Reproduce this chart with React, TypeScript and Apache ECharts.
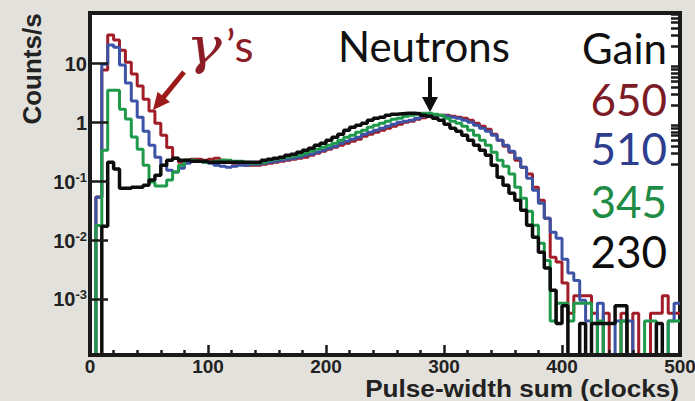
import React, { useEffect, useRef } from "react";
import * as echarts from "echarts";

// ---- data -------------------------------------------------------------
const BIN_WIDTH = 5; // clocks per histogram bin
const X_MIN = 0;
const X_MAX = 500;
const X_INTERVAL = 100;
const Y_MIN = 1.14e-4;
const Y_MAX = 72.6;
const EMPTY_BIN = 1e-7; // zero-count bins drawn below the axis floor

const gainLabels = ["650", "510", "345", "230"];
const lineColors = ["#a11d27", "#3c53a6", "#1f9a4b", "#0d0d0d"];
const textColors = ["#7d1b27", "#2e3e8e", "#1f8c46", "#0d0d0d"];

const xTickLabels = [0, 100, 200, 300, 400, 500];
const yMajorTicks = [0.001, 0.01, 0.1, 1, 10];
const yMinorTicks = [0.2, 0.3, 0.4, 0.5, 0.6, 0.7, 0.8, 0.9, 2, 3, 4, 5, 6, 7, 8, 9, 20, 30, 40, 50, 60, 70];

// counts/s per 5-clock bin, bins starting at 0, 5, 10, ... 495
const gain650 = [
  0, 0.055, 7.8, 30.6, 25.2, 17.0, 10.6, 6.7, 4.2, 2.5,
  1.57, 0.98, 0.61, 0.38, 0.25, 0.213, 0.231, 0.24, 0.24, 0.231,
  0.24, 0.249, 0.231, 0.213, 0.205, 0.197, 0.19, 0.19, 0.19, 0.197,
  0.205, 0.213, 0.222, 0.231, 0.24, 0.249, 0.259, 0.281, 0.303, 0.328,
  0.355, 0.384, 0.415, 0.449, 0.485, 0.525, 0.59, 0.638, 0.69, 0.746,
  0.807, 0.872, 0.943, 1.019, 1.06, 1.146, 1.216, 1.289, 1.341, 1.341,
  1.341, 1.289, 1.24, 1.192, 1.102, 0.981, 0.872, 0.776, 0.638, 0.505,
  0.399, 0.316, 0.231, 0.175, 0.134, 0.08, 0.048, 0.0239, 0.0052, 0.0043,
  0.0019, 0.00058, 0.00116, 0.00116, 0.00116, 0.00058, 0, 0.00058, 0, 0,
  0.00058, 0, 0.00058, 0, 0, 0.00058, 0.00058, 0.00116, 0.00058, 0.00058,
];
const gain510 = [
  0, 0.054, 9.8, 20.7, 19.1, 9.5, 4.7, 2.32, 1.24, 0.718,
  0.415, 0.259, 0.19, 0.156, 0.145, 0.169, 0.205, 0.222, 0.222, 0.213,
  0.205, 0.19, 0.182, 0.175, 0.182, 0.19, 0.19, 0.197, 0.197, 0.205,
  0.213, 0.222, 0.231, 0.24, 0.249, 0.259, 0.281, 0.292, 0.316, 0.341,
  0.369, 0.399, 0.449, 0.485, 0.525, 0.568, 0.638, 0.69, 0.746, 0.807,
  0.872, 0.943, 1.019, 1.06, 1.102, 1.192, 1.289, 1.341, 1.341, 1.315,
  1.289, 1.24, 1.192, 1.102, 1.019, 0.907, 0.807, 0.718, 0.614, 0.505,
  0.415, 0.328, 0.249, 0.175, 0.114, 0.0715, 0.043, 0.0239, 0.0138, 0.0109,
  0.0048, 0.0028, 0.0021, 0.00097, 0.00043, 0, 0.00086, 0, 0, 0.00043,
  0.00043, 0.00043, 0, 0, 0, 0, 0, 0, 0.00043, 0.00086,
];
const gain345 = [
  0, 0.018, 0.34, 3.56, 3.56, 1.69, 1.15, 0.57, 0.355, 0.19,
  0.098, 0.084, 0.084, 0.106, 0.145, 0.19, 0.231, 0.231, 0.222, 0.213,
  0.213, 0.222, 0.231, 0.231, 0.222, 0.222, 0.213, 0.205, 0.205, 0.213,
  0.231, 0.24, 0.249, 0.259, 0.27, 0.281, 0.303, 0.328, 0.355, 0.384,
  0.415, 0.449, 0.505, 0.568, 0.614, 0.69, 0.746, 0.839, 0.907, 0.981,
  1.06, 1.146, 1.192, 1.289, 1.341, 1.394, 1.449, 1.449, 1.394, 1.341,
  1.192, 1.06, 0.981, 0.872, 0.746, 0.614, 0.505, 0.415, 0.316, 0.231,
  0.182, 0.134, 0.08, 0.0523, 0.0314, 0.0182, 0.009, 0.0046, 0.00043, 0.00086,
  0.00086, 0.00043, 0.00086, 0.00086, 0.00086, 0, 0.00043, 0, 0, 0,
  0.00043, 0, 0, 0, 0.00043, 0.00043, 0, 0, 0.00043, 0.00043,
];
const gain230 = [
  0, 0, 0.0175, 0.213, 0.164, 0.077, 0.077, 0.08, 0.08, 0.087,
  0.106, 0.128, 0.19, 0.231, 0.249, 0.231, 0.231, 0.222, 0.222, 0.222,
  0.213, 0.213, 0.213, 0.213, 0.213, 0.213, 0.213, 0.213, 0.213, 0.231,
  0.24, 0.249, 0.259, 0.281, 0.292, 0.316, 0.341, 0.369, 0.415, 0.449,
  0.505, 0.568, 0.638, 0.746, 0.839, 0.907, 0.981, 1.102, 1.192, 1.24,
  1.341, 1.394, 1.422, 1.449, 1.449, 1.422, 1.341, 1.289, 1.192, 1.102,
  0.943, 0.807, 0.718, 0.614, 0.505, 0.415, 0.341, 0.281, 0.19, 0.119,
  0.087, 0.0635, 0.0483, 0.0327, 0.0182, 0.0114, 0.0063, 0.0034, 0.00143, 0.00039,
  0.00078, 0, 0, 0.00039, 0, 0.00039, 0.00039, 0.00039, 0.00039, 0.00078,
  0.00078, 0, 0, 0, 0, 0, 0.00039, 0, 0, 0,
];
const seriesValues = [gain650, gain510, gain345, gain230];

// ---- helpers ----------------------------------------------------------
function stepData(values: number[]): [number, number][] {
  const pts: [number, number][] = values.map((v, i) => [i * BIN_WIDTH, v > 0 ? v : EMPTY_BIN]);
  pts.push([values.length * BIN_WIDTH, pts[pts.length - 1][1]]);
  return pts;
}

const FRAME = "#1b1a1a";
const LABEL = "#222222";
const AXIS_FONT = '"Liberation Sans", Arial, Helvetica, sans-serif';
const ANNO_FONT = 'Lato, "Open Sans", "Noto Sans", sans-serif';

function yLabel(v: number): string {
  const e = Math.round(Math.log10(v));
  if (e >= 0) return `{b|${Math.round(Math.pow(10, e))}}`;
  return `{b|10}{s|${e}}`;
}

function textEl(text: string, x: number, y: number, font: string, fill: string, align: string, extra: any = {}) {
  return {
    type: "text",
    x,
    y,
    z: 20,
    silent: true,
    ...extra,
    style: { text, font, fill, align, verticalAlign: "middle", textAlign: align, textVerticalAlign: "middle" },
  };
}

// arrow geometry (annotation only)
function arrow(x1: number, y1: number, tipX: number, tipY: number, color: string, w: number, headLen: number, headHalf: number) {
  const dx = tipX - x1;
  const dy = tipY - y1;
  const len = Math.sqrt(dx * dx + dy * dy);
  const ux = dx / len;
  const uy = dy / len;
  const bx = tipX - ux * headLen;
  const by = tipY - uy * headLen;
  const px = -uy;
  const py = ux;
  return [
    {
      type: "line",
      z: 20,
      silent: true,
      shape: { x1, y1, x2: bx + ux * 2, y2: by + uy * 2 },
      style: { stroke: color, lineWidth: w },
    },
    {
      type: "polygon",
      z: 20,
      silent: true,
      shape: {
        points: [
          [tipX, tipY],
          [bx + px * headHalf, by + py * headHalf],
          [bx - px * headHalf, by - py * headHalf],
        ],
      },
      style: { fill: color },
    },
  ];
}

export default function App() {
  const ref = useRef<HTMLDivElement>(null);

  useEffect(() => {
    if (!ref.current) return;
    const chart = echarts.init(ref.current, null, { renderer: "svg", width: 695, height: 401 });

    const series = seriesValues.map((vals, i) => ({
      type: "line",
      name: gainLabels[i],
      data: stepData(vals),
      step: "end",
      symbol: "none",
      showSymbol: false,
      clip: true,
      silent: true,
      lineStyle: { color: lineColors[i], width: i === 3 ? 3.5 : 3 },
      itemStyle: { color: lineColors[i] },
      emphasis: { disabled: true },
    }));

    const graphic: any[] = [
      {
        type: "text",
        x: 32,
        y: 69,
        rotation: Math.PI / 2,
        z: 20,
        silent: true,
        style: {
          text: "Counts/s",
          font: `bold 26px ${AXIS_FONT}`,
          fill: LABEL,
          align: "center",
          verticalAlign: "middle",
          textAlign: "center",
          textVerticalAlign: "middle",
        },
      },
      textEl("Pulse-width sum (clocks)", 679, 388, `bold 24px ${AXIS_FONT}`, LABEL, "right", { scaleX: 1.09 }),
      textEl("Neutrons", 338, 46, `42px ${ANNO_FONT}`, "#111", "left"),
      textEl("Gain", 667, 48, `42px ${ANNO_FONT}`, "#111", "right"),
      textEl(gainLabels[0], 667, 99, `44px ${ANNO_FONT}`, textColors[0], "right"),
      textEl(gainLabels[1], 667, 148, `44px ${ANNO_FONT}`, textColors[1], "right"),
      textEl(gainLabels[2], 667, 201, `44px ${ANNO_FONT}`, textColors[2], "right"),
      textEl(gainLabels[3], 667, 251, `44px ${ANNO_FONT}`, textColors[3], "right"),
      textEl("\u03b3", 186, 46, `italic 50px "DejaVu Serif", "Liberation Serif", serif`, "#8c1c25", "left", { scaleX: 1.2 }),
      textEl("\u2019s", 226, 45, `44px ${ANNO_FONT}`, "#8c1c25", "left"),
      ...arrow(184, 72, 153, 110, "#9c1a1a", 5, 17, 8),
      ...arrow(430, 77, 430, 112, "#0d0d0d", 4, 15, 8),
    ];

    chart.setOption({
      animation: false,
      backgroundColor: "transparent",
      grid: {
        left: 90,
        right: 15,
        top: 13,
        bottom: 46,
        show: true,
        backgroundColor: "#ffffff",
        borderColor: FRAME,
        borderWidth: 4,
        containLabel: false,
        outerBoundsMode: "none",
      },
      xAxis: {
        type: "value",
        min: X_MIN,
        max: X_MAX,
        interval: X_INTERVAL,
        z: 5,
        axisLine: { show: true, onZero: false, lineStyle: { color: FRAME, width: 4 } },
        axisTick: { show: true, inside: true, length: 10, lineStyle: { color: FRAME, width: 2.5 } },
        minorTick: { show: true, splitNumber: 5, length: 5, lineStyle: { color: FRAME, width: 2.5 } },
        axisLabel: {
          margin: 2,
          fontFamily: AXIS_FONT,
          fontWeight: "bold",
          fontSize: 19,
          lineHeight: 18,
          color: LABEL,
          formatter: (v: number) => (xTickLabels.includes(v) ? String(v) : ""),
        },
        splitLine: { show: false },
        minorSplitLine: { show: false },
      },
      yAxis: [
        {
          type: "log",
          logBase: 10,
          min: Y_MIN,
          max: Y_MAX,
          z: 5,
          axisLine: { show: true, lineStyle: { color: FRAME, width: 4 } },
          axisTick: { show: true, inside: true, length: 18, customValues: yMajorTicks, lineStyle: { color: FRAME, width: 2.5 } },
          axisLabel: {
            customValues: yMajorTicks,
            margin: 3,
            formatter: yLabel,
            rich: {
              b: { fontFamily: AXIS_FONT, fontWeight: "bold", fontSize: 20, color: LABEL, lineHeight: 22 },
              s: { fontFamily: AXIS_FONT, fontWeight: "bold", fontSize: 13, color: LABEL, lineHeight: 14, verticalAlign: "top" },
            },
          },
          splitLine: { show: false },
        },
        {
          type: "log",
          logBase: 10,
          min: Y_MIN,
          max: Y_MAX,
          z: 5,
          axisLine: { show: false },
          axisTick: { show: true, inside: true, length: 9, customValues: yMinorTicks, lineStyle: { color: FRAME, width: 2.5 } },
          axisLabel: { show: false },
          splitLine: { show: false },
        },
      ],
      series,
      graphic,
    });

    return () => chart.dispose();
  }, []);

  return (
    <div style={{ position: "fixed", left: 0, top: 0, width: 695, height: 401, background: "#e3e1dc" }}>
      <div ref={ref} style={{ width: 695, height: 401 }} />
    </div>
  );
}
